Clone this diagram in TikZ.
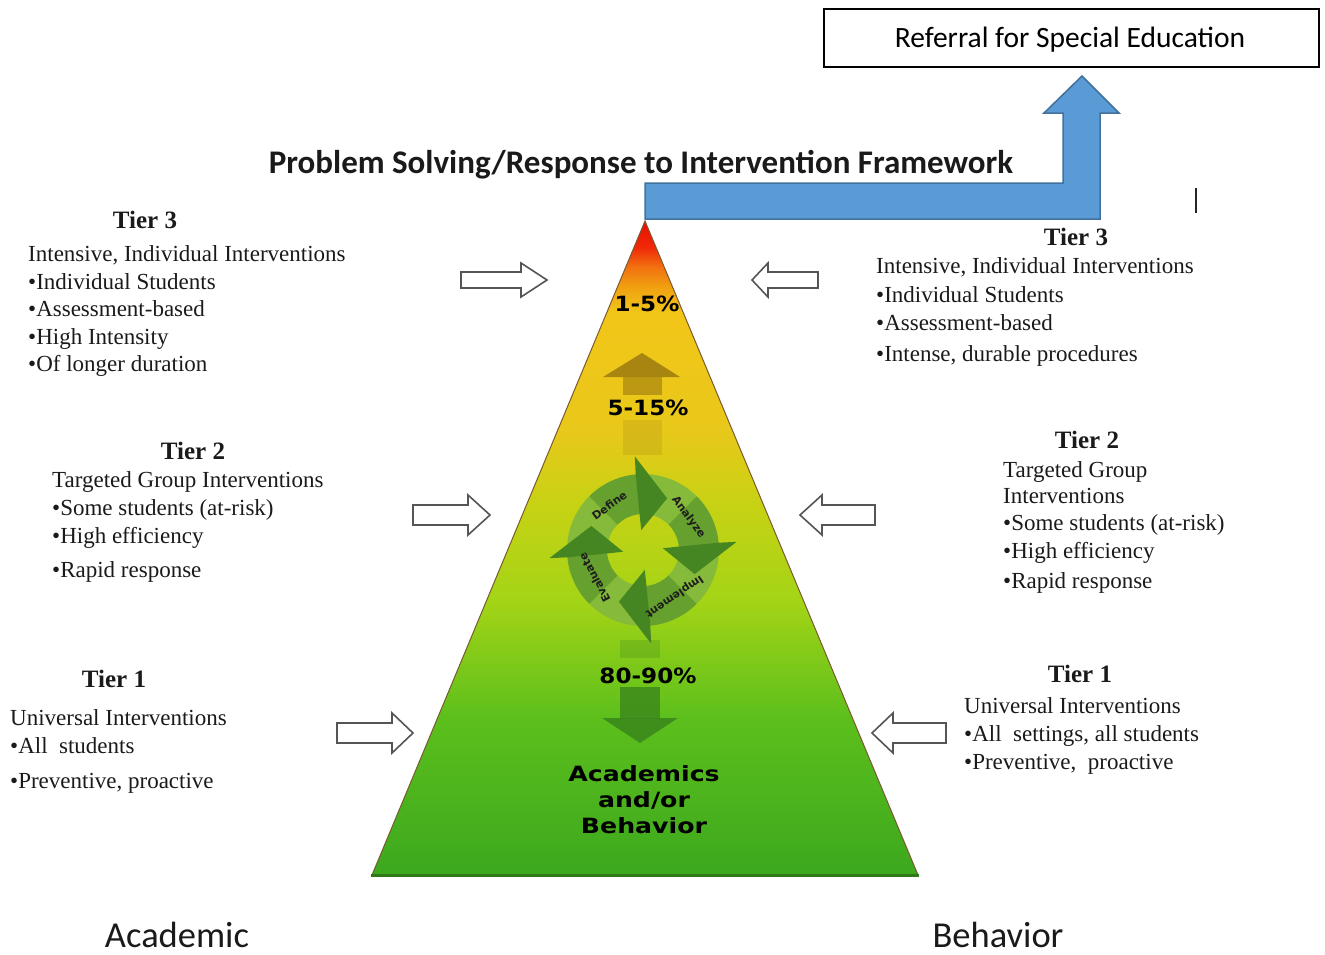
\documentclass[tikz,border=0pt]{standalone}
\usepackage{fontspec}
\setmainfont{Liberation Serif}
\newfontfamily\calibri{Carlito}
\newfontfamily\heavysans[FakeStretch=1.1]{DejaVu Sans}
\newfontfamily\heavywide[FakeStretch=1.2]{DejaVu Sans}
\newfontfamily\cyclefont{DejaVu Sans}

% pyramid colour stops, bottom to top
\definecolor{pg0}{HTML}{3CA81E}
\definecolor{pg1}{HTML}{5CBF1C}
\definecolor{pg2}{HTML}{A4D416}
\definecolor{pg3}{HTML}{C8D214}
\definecolor{pg4}{HTML}{E8C81A}
\definecolor{pg5}{HTML}{F2C618}
\definecolor{pg6}{HTML}{F0A010}
\definecolor{pg7}{HTML}{F27010}
\definecolor{pg8}{HTML}{F02808}
\definecolor{pg9}{HTML}{E81000}
\pgfdeclareverticalshading{pyramidfill}{100bp}{%
  color(0bp)=(pg0); color(25bp)=(pg0); color(37bp)=(pg1); color(46bp)=(pg2);
  color(53.5bp)=(pg3); color(59bp)=(pg4); color(68bp)=(pg5); color(70bp)=(pg6);
  color(71.5bp)=(pg7); color(73bp)=(pg8); color(75bp)=(pg9); color(100bp)=(pg9)}

\definecolor{bluefill}{HTML}{5B9BD5}
\definecolor{blueline}{HTML}{41719C}
\definecolor{arrowgray}{HTML}{555555}
\definecolor{pyredge}{HTML}{7A5A30}
\definecolor{pyrbase}{HTML}{2F7A18}
\definecolor{upbrown}{HTML}{9C7A10}
\definecolor{downgreen}{HTML}{3A861C}
\definecolor{cyclelight}{HTML}{86BA3A}
\definecolor{cyclemid}{HTML}{66A02E}
\definecolor{cycledark}{HTML}{468622}
\definecolor{cycletext}{HTML}{1E1E1E}
\definecolor{textcol}{HTML}{1A1A1A}

\tikzset{
  tiertitle/.style={font=\fontsize{25}{30}\selectfont\bfseries, anchor=base, inner sep=0pt, text=textcol},
  tierline/.style={font=\fontsize{23}{27}\selectfont, anchor=base west, inner sep=0pt, text=textcol},
  pct/.style={font=\heavysans\bfseries\fontsize{21}{24}\selectfont, anchor=base, inner sep=0pt},
  pctwide/.style={font=\heavywide\bfseries\fontsize{21}{24}\selectfont, anchor=base, inner sep=0pt},
  hollow/.style={fill=white, draw=arrowgray, line width=1.6pt, line join=miter},
  cyclabel/.style={font=\cyclefont\bfseries\fontsize{11}{13}\selectfont, text=cycletext, inner sep=0pt},
  sidelabel/.style={font=\calibri\fontsize{36.5}{40}\selectfont, anchor=base, inner sep=0pt, text=textcol},
}

% outlined block arrow: tail x, head base x, tip x, centre y, half shaft, half head
\newcommand\hollowarrow[6]{%
  \draw[hollow] (#1,#4-#5) -- (#2,#4-#5) -- (#2,#4-#6) -- (#3,#4)
    -- (#2,#4+#6) -- (#2,#4+#5) -- (#1,#4+#5) -- cycle;}

% band of one curved cycle arrow (start angle, end angle), shaded light to dark
\newcommand\cycleband[2]{%
  \fill[cyclelight] (#1:36) arc[start angle=#1, end angle={(#1+#2)/2}, radius=36]
    -- ({(#1+#2)/2}:76) arc[start angle={(#1+#2)/2}, end angle=#1, radius=76] -- cycle;
  \fill[cyclemid] ({(#1+#2)/2}:36) arc[start angle={(#1+#2)/2}, end angle=#2, radius=36]
    -- (#2:76) arc[start angle=#2, end angle={(#1+#2)/2}, radius=76] -- cycle;}
% head of a cycle arrow at the given angle
\newcommand\cyclehead[1]{%
  \fill[cycledark] ({#1+0.5}:36) -- (#1:20) -- ({#1-30}:57) -- (#1:94) -- ({#1+0.5}:76) -- cycle;}

\begin{document}
\begin{tikzpicture}[x=1pt, y=-1pt]
\useasboundingbox (0,0) rectangle (1325,954);

% ---- pyramid ----
\shade[shading=pyramidfill] (645,221) -- (918,875) -- (372,875) -- cycle;
\draw[pyredge, line width=1pt] (372,875) -- (645,221) -- (918,875);
\draw[pyrbase, line width=3pt] (371,875) -- (919,875);

% up arrow in the upper tiers
\fill[upbrown, opacity=0.85] (603,377) -- (642,353) -- (680,377) -- cycle;
\fill[upbrown, opacity=0.6] (623,377) rectangle (662,395);
\fill[upbrown, opacity=0.2] (623,420) rectangle (662,455);

% down arrow in the lower tier
\fill[downgreen, opacity=0.25] (620,640) rectangle (660,658);
\fill[downgreen, opacity=0.8] (620,687) rectangle (660,719);
\fill[downgreen, opacity=0.85] (602,718) -- (678,718) -- (640,743) -- cycle;

% ---- problem-solving cycle ----
\begin{scope}[shift={(643,550)}, x=1pt, y=1pt]
  \cycleband{265}{185}
  \cycleband{-5}{-85}
  \cycleband{85}{5}
  \cycleband{175}{95}
  \cyclehead{185}
  \cyclehead{-85}
  \cyclehead{5}
  \cyclehead{95}
  \node[cyclabel, rotate=36]   (define)    at (127:56) {Define};
  \node[cyclabel, rotate=-54]  (analyze)   at (36:56)  {Analyze};
  \node[cyclabel, rotate=-146] (implement) at (-56:56) {Implement};
  \node[cyclabel, rotate=118]  (evaluate)  at (210:56) {Evaluate};
\end{scope}

% percentages and centre text
\node[pct] (p1)  at (647,311) {1-5\%};
\node[pct] (p2)  at (648,415) {5-15\%};
\node[pct] (p3)  at (648,683) {80-90\%};
\node[pctwide] (ac1) at (644,781) {Academics};
\node[pctwide] (ac2) at (644,807) {and/or};
\node[pctwide] (ac3) at (644,833) {Behavior};

% ---- referral arrow and box ----
\draw[fill=bluefill, draw=blueline, line width=1.5pt, line join=miter]
  (645,183) -- (1063,183) -- (1063,113) -- (1044,113) -- (1082,76)
  -- (1119,113) -- (1100,113) -- (1100,219) -- (645,219) -- cycle;
\node[draw=black, line width=1.5pt, minimum width=495pt, minimum height=58pt,
      inner sep=0pt, anchor=north west] (referral) at (823,8) {};
\node[font=\calibri\fontsize{29.5}{34}\selectfont, anchor=base, inner sep=0pt]
  (reftext) at (1070,47) {Referral for Special Education};
\draw[line width=2.6pt, black!85] (1196,188) -- (1196,213);

% title
\node[font=\calibri\bfseries\fontsize{33}{38}\selectfont, anchor=base, inner sep=0pt, text=textcol]
  (title) at (641,173) {Problem Solving/Response to Intervention Framework};

% ---- side arrows ----
\hollowarrow{461}{521}{547}{280}{8}{17}
\hollowarrow{818}{768}{752}{280}{8}{17}
\hollowarrow{413}{468}{490}{515}{10}{20}
\hollowarrow{875}{822}{800}{515}{10}{20}
\hollowarrow{337}{392}{413}{733}{10}{20}
\hollowarrow{946}{893}{872}{733}{10}{20}

% ---- left column ----
\node[tiertitle] (lt3) at (145,228) {Tier 3};
\node[tierline] (lt3a) at (28,261) {Intensive, Individual Interventions};
\node[tierline] (lt3b) at (28,289) {•Individual Students};
\node[tierline] (lt3c) at (28,316) {•Assessment-based};
\node[tierline] (lt3d) at (28,344) {•High Intensity};
\node[tierline] (lt3e) at (28,371) {•Of longer duration};

\node[tiertitle] (lt2) at (193,459) {Tier 2};
\node[tierline] (lt2a) at (52,487) {Targeted Group  Interventions};
\node[tierline] (lt2b) at (52,515) {•Some students (at-risk)};
\node[tierline] (lt2c) at (52,543) {•High efficiency};
\node[tierline] (lt2d) at (52,577) {•Rapid response};

\node[tiertitle] (lt1) at (114,687) {Tier 1};
\node[tierline] (lt1a) at (10,725) {Universal Interventions};
\node[tierline] (lt1b) at (10,753) {•All\ \ students};
\node[tierline] (lt1c) at (10,788) {•Preventive, proactive};

% ---- right column ----
\node[tiertitle] (rt3) at (1076,245) {Tier 3};
\node[tierline] (rt3a) at (876,273) {Intensive, Individual Interventions};
\node[tierline] (rt3b) at (876,302) {•Individual Students};
\node[tierline] (rt3c) at (876,330) {•Assessment-based};
\node[tierline] (rt3d) at (876,361) {•Intense, durable procedures};

\node[tiertitle] (rt2) at (1087,448) {Tier 2};
\node[tierline] (rt2a) at (1003,477) {Targeted Group};
\node[tierline] (rt2b) at (1003,503) {Interventions};
\node[tierline] (rt2c) at (1003,530) {•Some students (at-risk)};
\node[tierline] (rt2d) at (1003,558) {•High efficiency};
\node[tierline] (rt2e) at (1003,588) {•Rapid response};

\node[tiertitle] (rt1) at (1080,682) {Tier 1};
\node[tierline] (rt1a) at (964,713) {Universal Interventions};
\node[tierline] (rt1b) at (964,741) {•All\ \ settings, all students};
\node[tierline] (rt1c) at (964,769) {•Preventive,\ \ proactive};

% ---- bottom labels ----
\node[sidelabel] (academic) at (177,947) {Academic};
\node[sidelabel] (behavior) at (998,947) {Behavior};
\end{tikzpicture}
\end{document}
